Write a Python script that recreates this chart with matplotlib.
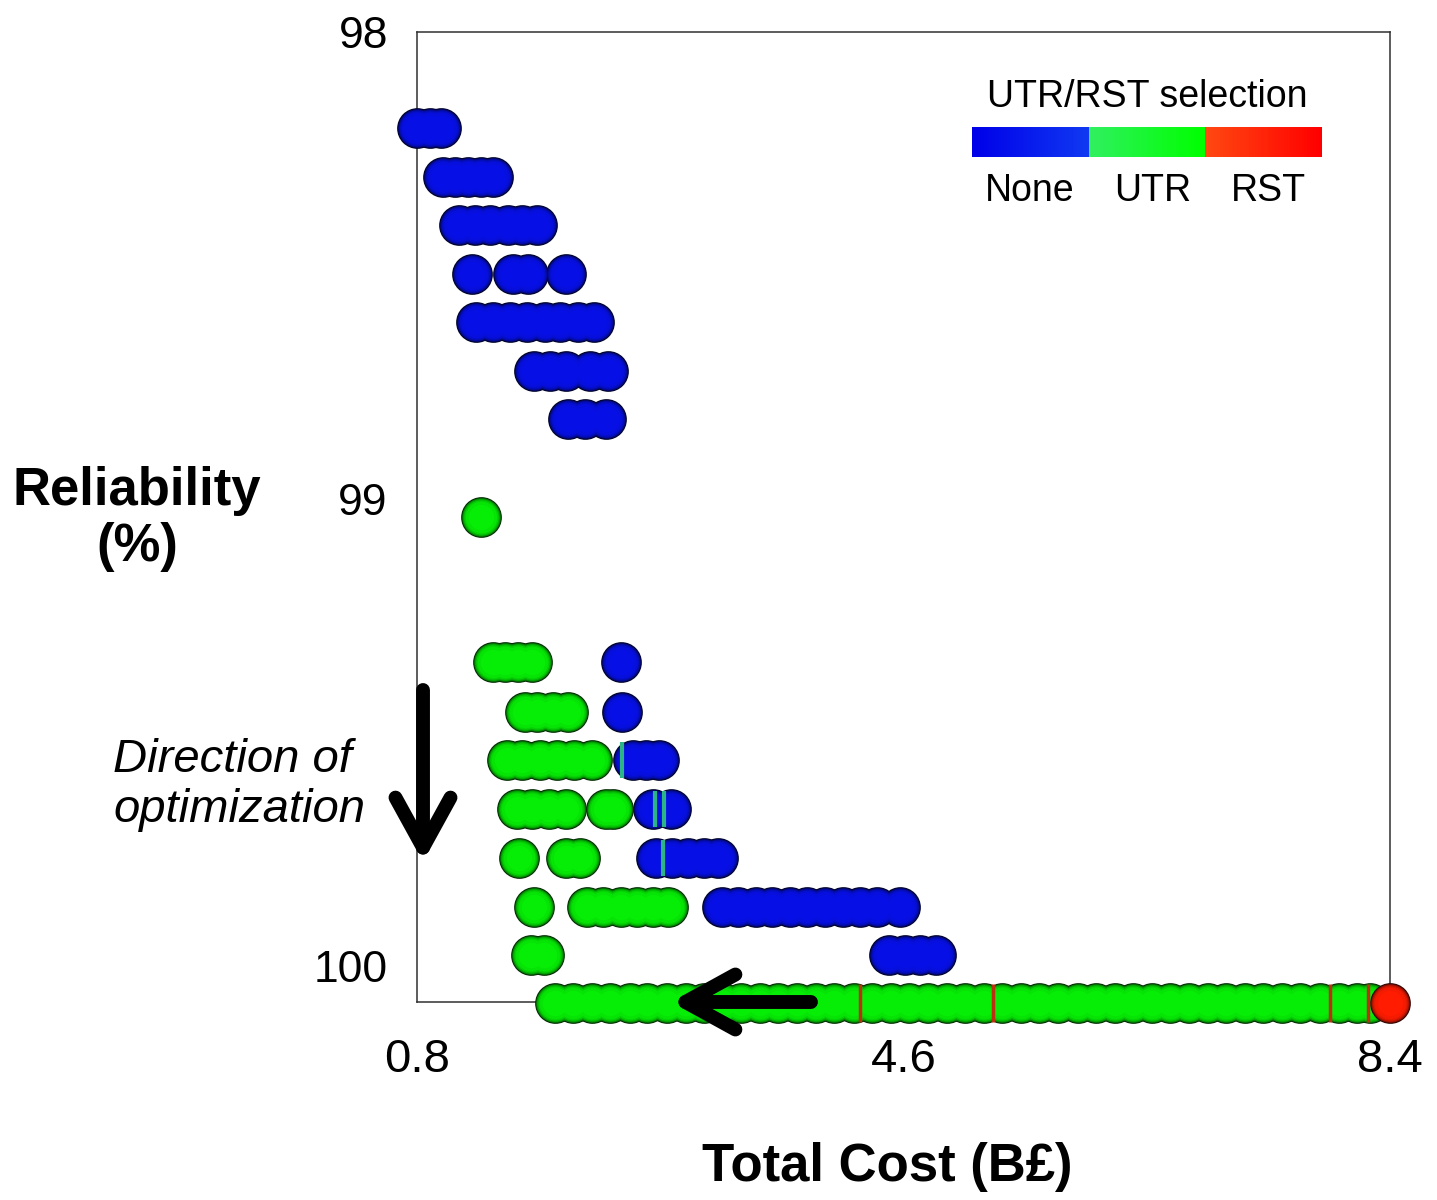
import numpy as np
import matplotlib.pyplot as plt
from matplotlib.colors import to_rgb

plt.rcParams['font.family'] = ['Liberation Sans', 'DejaVu Sans']

# reliability level (%) of each row of solutions, top to bottom
row_reliability = [98.206, 98.311, 98.414, 98.519, 98.621, 98.726, 98.829,
                   99.039, 99.349, 99.456, 99.559, 99.663, 99.768, 99.873,
                   99.976, 100.079]

# total cost (B£) of each solution, per row and per UTR/RST selection
none_cost = [
    [0.80, 0.90, 0.99],
    [1.00, 1.10, 1.20, 1.30, 1.39],
    [1.13, 1.25, 1.37, 1.51, 1.62, 1.74],
    [1.23, 1.55, 1.67, 1.96],
    [1.26, 1.39, 1.53, 1.66, 1.80, 1.92, 2.06, 2.18],
    [1.71, 1.84, 1.96, 2.15, 2.29],
    [1.98, 2.11, 2.28],
    [],
    [2.39],
    [2.40],
    [2.49, 2.59, 2.69],
    [2.64, 2.78],
    [2.67, 2.79, 2.92, 3.04, 3.15],
    [3.18, 3.31, 3.45, 3.57, 3.71, 3.85, 3.99, 4.13, 4.26, 4.39, 4.57],
    [4.49, 4.61, 4.73, 4.85],
    [],
]
utr_cost = [
    [], [], [], [], [], [], [],
    [1.30],
    [1.39, 1.49, 1.59, 1.70],
    [1.64, 1.74, 1.86, 1.98],
    [1.50, 1.62, 1.76, 1.89, 2.03, 2.17],
    [1.58, 1.70, 1.83, 1.96, 2.28, 2.33],
    [1.60, 1.96, 2.07],
    [1.71, 2.13, 2.25, 2.39, 2.52, 2.64, 2.76],
    [1.69, 1.79],
    [1.88, 2.02, 2.17, 2.31, 2.46, 2.60, 2.75, 2.90, 3.04, 3.19, 3.33,
     3.48, 3.62, 3.77, 3.92, 4.06, 4.21, 4.35, 4.50, 4.64, 4.79, 4.94,
     5.08, 5.23, 5.37, 5.52, 5.66, 5.81, 5.96, 6.10, 6.25, 6.39, 6.54,
     6.68, 6.83, 6.98, 7.12, 7.27, 7.41, 7.56, 7.70, 7.85, 8.00, 8.14,
     8.24],
]
rst_cost = [[] for _ in range(15)] + [[8.40]]

# solutions mostly hidden behind their neighbours (only a sliver shows)
hidden_utr_cost = [2.40, 2.66, 2.73, 2.72]
hidden_utr_rel = [99.559, 99.663, 99.663, 99.768]
hidden_rst_cost = [4.26, 5.30, 7.93, 8.23]
hidden_rst_rel = [100.079, 100.079, 100.079, 100.079]

x_ticks = [0.8, 4.6, 8.4]
y_ticks = [98, 99, 100]
legend_labels = ['None', 'UTR', 'RST']

NONE_COLOR = '#0610E6'
UTR_COLOR = '#06EE06'
RST_COLOR = '#FF1C00'

# concentric layers (radius fraction, brightness) to fake sphere shading
SHADE_LAYERS = [(1.00, 0.18), (0.95, 0.52), (0.90, 0.74), (0.84, 0.88),
                (0.77, 0.96), (0.62, 1.0)]
BALL_AREA = 860


def shade(color, f):
    r, g, b = to_rgb(color)
    return (r * f, g * f, b * f)


def draw_balls(ax, xs, y, color):
    if len(xs) == 0:
        return
    ys = [y] * len(xs)
    for scale, f in SHADE_LAYERS:
        ax.scatter(xs, ys, s=BALL_AREA * scale ** 2, color=shade(color, f),
                   linewidths=0, clip_on=False, zorder=4)


fig = plt.figure(figsize=(14.37, 12), dpi=100)
ax = fig.add_axes([0.2902, 0.165, 0.6771, 0.80875])

for y, xs_utr, xs_none, xs_rst in zip(row_reliability, utr_cost, none_cost, rst_cost):
    draw_balls(ax, xs_utr, y, UTR_COLOR)
    draw_balls(ax, xs_none, y, NONE_COLOR)
    draw_balls(ax, xs_rst, y, RST_COLOR)

ax.scatter(hidden_utr_cost, hidden_utr_rel, marker='|', s=700, linewidths=3,
           color='#2CB488', clip_on=False, zorder=5)
ax.scatter(hidden_rst_cost, hidden_rst_rel, marker='|', s=750, linewidths=2.5,
           color='#B83212', clip_on=False, zorder=5)

ax.set_xlim(0.8, 8.4)
ax.set_ylim(100.076, 98)
ax.set_xticks(x_ticks)
ax.set_xticklabels([f'{t:.1f}' for t in x_ticks])
ax.set_yticks(y_ticks)
ax.set_yticklabels([str(t) for t in y_ticks])
ax.tick_params(axis='x', labelsize=34, pad=26, length=0)
ax.tick_params(axis='y', labelsize=32, pad=21, length=0)
for sp in ax.spines.values():
    sp.set_color('#303030')
    sp.set_linewidth(1.1)

fig.text(137 / 1437, 1 - 519 / 1200, 'Reliability\n(%)', fontsize=38,
         fontweight='bold', ha='center', va='center', linespacing=1.15)
fig.text(887 / 1437, 1 - 1167 / 1200, 'Total Cost (B£)', fontsize=38,
         fontweight='bold', ha='center', va='center')
fig.text(113 / 1437, 1 - 785 / 1200, 'Direction of\noptimization', fontsize=34,
         style='italic', ha='left', va='center', linespacing=1.15)

# arrows showing the direction of optimization
arrow_style = dict(arrowstyle='->,head_length=1.0,head_width=0.55', lw=10,
                   color='black', mutation_scale=36, capstyle='round',
                   joinstyle='round', shrinkA=0, shrinkB=0)
ax.annotate('', xy=(423, 1200 - 862), xytext=(423, 1200 - 690),
            xycoords='figure pixels', textcoords='figure pixels',
            arrowprops=arrow_style, annotation_clip=False, zorder=6)
ax.annotate('', xy=(671, 1200 - 1002), xytext=(811, 1200 - 1002),
            xycoords='figure pixels', textcoords='figure pixels',
            arrowprops=arrow_style, annotation_clip=False, zorder=6)

# colour key for the UTR/RST selection
key_ax = fig.add_axes([972 / 1437, 1 - 157 / 1200, 350 / 1437, 30 / 1200])
segments = [('#0000E8', '#1038F2'), ('#30F060', '#00FF00'), ('#FF4812', '#FF0000')]
strip = np.concatenate([
    np.linspace(to_rgb(a), to_rgb(b), 40) for a, b in segments
])[None, :, :]
key_ax.imshow(strip, aspect='auto', interpolation='nearest')
key_ax.axis('off')
fig.text(1147 / 1437, 1 - 97 / 1200, 'UTR/RST selection', fontsize=27,
         ha='center', va='center')
for cx, lab in zip([1030, 1153, 1268], legend_labels):
    fig.text(cx / 1437, 1 - 191 / 1200, lab, fontsize=27, ha='center', va='center')

fig.savefig('out.png', dpi=100)
